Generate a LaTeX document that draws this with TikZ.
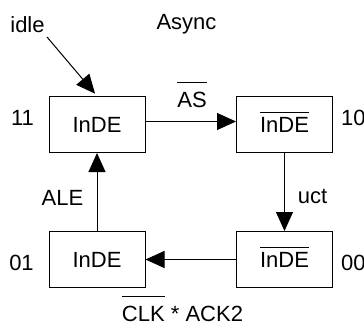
\documentclass[tikz,border=0pt]{standalone}
\usepackage{fontspec}
\setmainfont{Liberation Sans}
\usetikzlibrary{arrows.meta}
\newcommand\ovl[2][5pt]{\vbox{\hrule height 1pt\kern#1\hbox{#2}}}
\begin{document}
\begin{tikzpicture}[x=1pt,y=-1pt,
  font=\fontsize{22}{26}\selectfont,
  box/.style={draw, line width=1pt, minimum width=96pt, minimum height=56pt,
    inner sep=0pt, text height=16pt, text depth=0pt},
  lbl/.style={inner sep=0pt, anchor=base},
  arr/.style={line width=1pt, -{Triangle[length=19pt,width=17pt]}}]
\useasboundingbox (0,0) rectangle (364,322);
\node[box] (b11) at (97,124.5) {InDE};
\node[box] (b10) at (284.5,124.5) {\ovl[4.5pt]{InDE}};
\node[box] (b01) at (97,259.5) {InDE};
\node[box] (b00) at (284.5,259.5) {\ovl[4.5pt]{InDE}};
\node[lbl] (idle) at (27.5,32) {idle};
\node[lbl] (async) at (186.5,29) {Async};
\node[lbl] (as) at (192,107) {\ovl[9pt]{AS}};
\node[lbl] (l11) at (22.5,125) {11};
\node[lbl, anchor=base west] (l10) at (341,125) {10};
\node[lbl] (l01) at (21.5,270) {01};
\node[lbl, anchor=base west] (l00) at (341,270) {00};
\node[lbl] (uct) at (312.5,203) {uct};
\node[lbl] (ale) at (62.5,205) {ALE};
\node[lbl] (clk) at (182.5,321) {\ovl[9pt]{CLK} * ACK2};
\coordinate (s) at (47,37);
\draw[arr, shorten >=3pt] (s) -- (b11.north);
\draw[arr] ([yshift=3pt]b11.east) -- ([yshift=3pt]b10.west);
\draw[arr] (b10.south) -- (b00.north);
\draw[arr] (b00.west) -- (b01.east);
\draw[arr] (b01.north) -- (b11.south);
\end{tikzpicture}
\end{document}
